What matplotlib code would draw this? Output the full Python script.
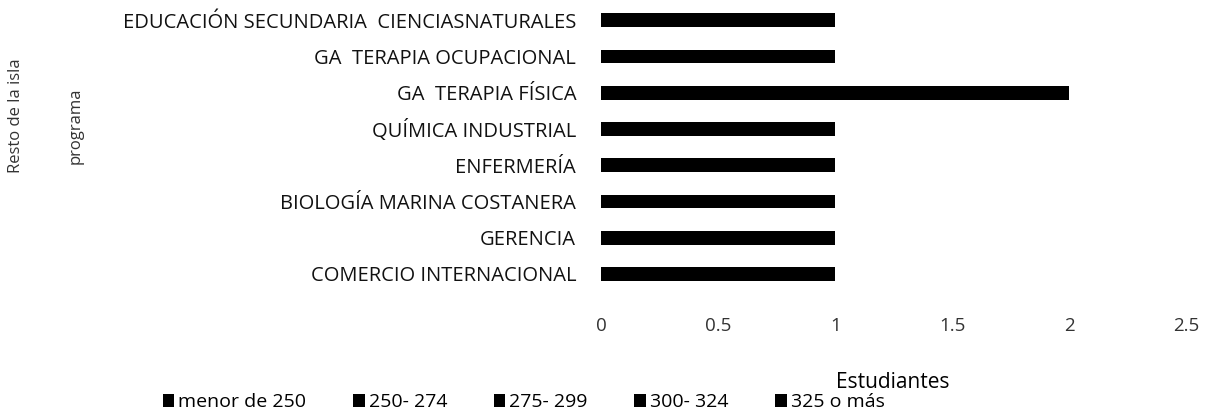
import matplotlib
matplotlib.use("Agg")
import matplotlib.pyplot as plt
import numpy as np

# ── Data ──────────────────────────────────────────────────────
programas = [
    "COMERCIO INTERNACIONAL",
    "GERENCIA",
    "BIOLOGÍA MARINA COSTANERA",
    "ENFERMERÍA",
    "QUÍMICA INDUSTRIAL",
    "GA  TERAPIA FÍSICA",
    "GA  TERAPIA OCUPACIONAL",
    "EDUCACIÓN SECUNDARIA  CIENCIASNATURALES",
]
rangos = ["menor de 250", "250- 274", "275- 299", "300- 324", "325 o más"]

menor_250 = [0, 0, 0, 0, 0, 1, 0, 0]
r250_274  = [1, 0, 0, 0, 0, 0, 0, 0]
r275_299  = [0, 1, 0, 1, 0, 0, 0, 1]
r300_324  = [0, 0, 1, 0, 1, 1, 1, 0]
r325_mas  = [0, 0, 0, 0, 0, 0, 0, 0]
series = [menor_250, r250_274, r275_299, r300_324, r325_mas]

x_ticks = [0, 0.5, 1, 1.5, 2, 2.5]

# ── Plot ──────────────────────────────────────────────────────
plt.rcParams["font.family"] = ["Open Sans", "DejaVu Sans"]

fig = plt.figure(figsize=(12.12, 4.19), dpi=100)
ax = fig.add_axes([0.496, 0.303, 0.483, 0.692])

y = np.arange(len(programas))
left = np.zeros(len(programas))
for name, vals in zip(rangos, series):
    ax.barh(y, vals, left=left, height=0.38, color="black", label=name)
    left += np.array(vals)

ax.set_xlim(0, 2.5)
ax.set_ylim(-0.5, len(programas) - 0.5)
ax.set_yticks(y)
ax.set_yticklabels(programas, fontsize=14.5, color="#111111")
ax.set_xticks(x_ticks)
ax.set_xticklabels([f"{t:g}" for t in x_ticks], fontsize=13.5, color="#333333")
ax.tick_params(axis="both", length=0)
ax.tick_params(axis="x", pad=18)
ax.tick_params(axis="y", pad=18)
for s in ax.spines.values():
    s.set_visible(False)

fig.text(0.737, 0.087, "Estudiantes", ha="center", va="center", fontsize=15)
fig.text(0.013, 0.725, "Resto de la isla", rotation=90, ha="center", va="center",
         fontsize=12, color="#333333")
fig.text(0.062, 0.70, "programa", rotation=90, ha="center", va="center",
         fontsize=12, color="#333333")

fig.legend(loc="center", bbox_to_anchor=(0.432, 0.04), ncol=5, frameon=False,
           fontsize=14, handlelength=0.6, handleheight=0.6, handletextpad=0.2,
           columnspacing=2.4)

fig.savefig("out.png", dpi=100)
